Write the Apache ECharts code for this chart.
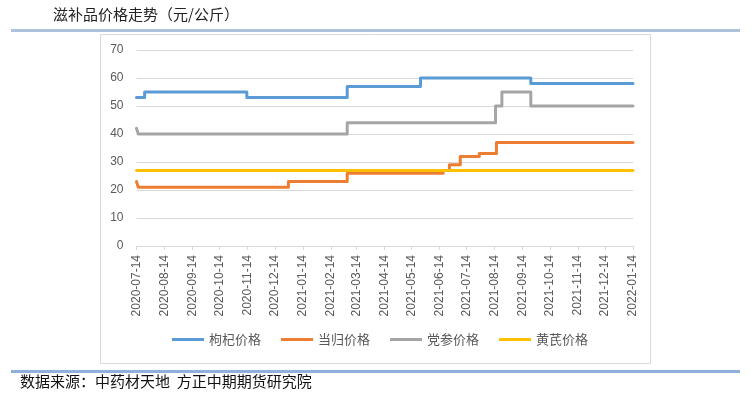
<!DOCTYPE html>
<html>
<head>
<meta charset="utf-8">
<script src="https://cdn.jsdelivr.net/npm/echarts@6/dist/echarts.min.js"></script>
<style>
html,body{margin:0;padding:0;background:#fff;}
#chart{width:752px;height:404px;}
</style>
</head>
<body>
<div id="chart"></div>
<script>
// ---- data ----
var titleText = '滋补品价格走势（元/公斤）';
var sourceText = '数据来源：中药材天地  方正中期期货研究院';
var tickLabels = ['2020-07-14','2020-08-14','2020-09-14','2020-10-14','2020-11-14','2020-12-14',
  '2021-01-14','2021-02-14','2021-03-14','2021-04-14','2021-05-14','2021-06-14','2021-07-14',
  '2021-08-14','2021-09-14','2021-10-14','2021-11-14','2021-12-14','2022-01-14'];
var seriesNames = ['枸杞价格','当归价格','党参价格','黄芪价格'];

// step change dates and the value that holds from that date
var gouqiDates  = ['2020-07-14','2020-07-23','2020-11-13','2021-03-04','2021-05-24','2021-09-23','2022-01-14'];
var gouqiValues = [53, 55, 53, 57, 60, 58, 58];

var dangguiDates  = ['2020-07-14','2020-07-16','2020-12-29','2021-03-04','2021-06-18','2021-06-25','2021-07-07','2021-07-28','2021-08-16','2022-01-14'];
var dangguiValues = [23, 21, 23, 26, 27, 29, 32, 33, 37, 37];

var dangshenDates  = ['2020-07-14','2020-07-16','2021-03-04','2021-08-15','2021-08-22','2021-09-23','2022-01-14'];
var dangshenValues = [42, 40, 44, 50, 55, 50, 50];

var huangqiDates  = ['2020-07-14','2022-01-14'];
var huangqiValues = [27, 27];

// ---- helpers ----
var DAY = 86400000;
function ts(s){ var p = s.split('-'); return Date.UTC(+p[0], +p[1]-1, +p[2]) / DAY; }
function pairs(d, v){ return d.map(function(x,i){ return [ts(x), v[i]]; }); }
var tickValues = tickLabels.map(ts);
var labelMap = {};
tickLabels.forEach(function(l){ labelMap[ts(l)] = l; });

var colors = ['#5b9bd5','#ed7d31','#a5a5a5','#ffc000'];
var seriesData = [
  pairs(gouqiDates, gouqiValues),
  pairs(dangguiDates, dangguiValues),
  pairs(dangshenDates, dangshenValues),
  pairs(huangqiDates, huangqiValues)
];

var chart = echarts.init(document.getElementById('chart'), null, {renderer:'canvas'});
var option = {
  animation: false,
  backgroundColor: '#fff',
  color: colors,
  textStyle: {fontFamily: '"Liberation Sans", "Noto Sans CJK SC", sans-serif'},
  graphic: [
    {type:'rect', shape:{x:11, y:29, width:729, height:3}, style:{fill:'#adc3d9'}, silent:true},
    {type:'rect', shape:{x:100.5, y:34.5, width:550, height:329}, style:{fill:'none', stroke:'#d9d9d9', lineWidth:1}, silent:true, z:-1},
    {type:'rect', shape:{x:11, y:370, width:729, height:3}, style:{fill:'#8fb0da'}, silent:true},
    {type:'text', left:53, top:7, style:{text:titleText, fill:'#222', font:'15px "Noto Sans CJK SC", sans-serif'}},
    {type:'text', left:20, top:374, style:{text:sourceText, fill:'#111', font:'15px "Noto Sans CJK SC", sans-serif'}}
  ],
  grid: {left:136.5, right:119, top:50, bottom:158, containLabel:false},
  legend: {
    data: seriesNames,
    left: 172, top: 333, padding: 0,
    icon: 'rect', itemWidth: 32, itemHeight: 3, itemGap: 20,
    textStyle: {fontSize:13, color:'#595959', fontFamily:'"Noto Sans CJK SC", sans-serif'}
  },
  xAxis: {
    type: 'value',
    min: tickValues[0], max: tickValues[tickValues.length-1],
    axisLine: {show:true, lineStyle:{color:'#d9d9d9', width:1}},
    axisTick: {show:true, length:4, lineStyle:{color:'#d9d9d9'}, customValues: tickValues},
    axisLabel: {
      customValues: tickValues, rotate: 90, margin: 9,
      fontSize: 12, color: '#595959',
      formatter: function(v){ return labelMap[v] || ''; }
    },
    splitLine: {show:false}
  },
  yAxis: {
    type: 'value', min: 0, max: 70, interval: 10,
    axisLine: {show:false}, axisTick: {show:false},
    axisLabel: {fontSize:12, color:'#595959', margin:13},
    splitLine: {lineStyle:{color:'#d9d9d9', width:1}}
  },
  series: seriesNames.map(function(n, i){
    return {
      name: n, type: 'line', step: 'end',
      data: seriesData[i],
      showSymbol: false, symbol: 'none',
      lineStyle: {width: 3, color: colors[i], cap:'round', join:'round'},
      itemStyle: {color: colors[i]}
    };
  })
};
chart.setOption(option);
</script>
</body>
</html>
